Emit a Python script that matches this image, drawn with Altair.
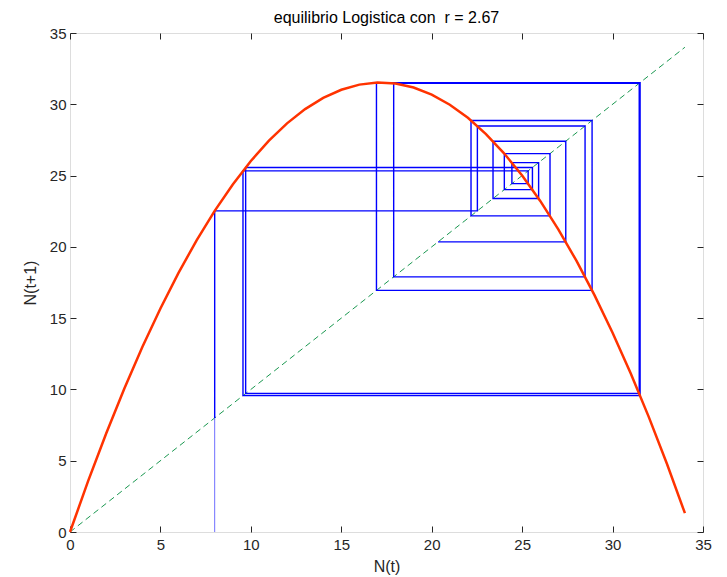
import altair as alt
import pandas as pd

title_text = "equilibrio Logistica con\u00a0 r = 2.67"
x_title = "N(t)"
y_title = "N(t+1)"
tick_values = [0, 5, 10, 15, 20, 25, 30, 35]

# logistic curve N(t+1) read at integer N(t)
curve_n = list(range(0, 35))
curve_next = [0.0, 3.563, 6.913, 10.049, 12.971, 15.68, 18.175, 20.457, 22.525,
              24.379, 26.02, 27.447, 28.661, 29.661, 30.447, 31.02, 31.379,
              31.525, 31.457, 31.175, 30.68, 29.971, 29.049, 27.913, 26.563,
              25.0, 23.223, 21.233, 19.029, 16.611, 13.98, 11.135, 8.077,
              4.805, 1.319]

# iterates of the cobweb
iterates = [8.0, 22.525, 28.479, 17.897, 31.474, 9.712, 25.569, 24.015, 26.541,
            22.173, 28.867, 16.945, 31.522, 9.565, 25.332, 24.434, 25.911,
            23.390, 27.412, 20.351]

diag_x = [0, 34]
diag_y = [0, 34]

start_x = [8.0, 8.0]
start_y = [0.0, 8.0]

# build tables
curve_df = pd.DataFrame({"x": curve_n, "y": curve_next})
diag_df = pd.DataFrame({"x": diag_x, "y": diag_y})
start_df = pd.DataFrame({"x": start_x, "y": start_y, "i": [0, 1]})
cx, cy = [], []
for k in range(len(iterates) - 1):
    a, b = iterates[k], iterates[k + 1]
    if k == 0:
        cx.append(a); cy.append(a)
    cx.append(a); cy.append(b)
    cx.append(b); cy.append(b)
cob_df = pd.DataFrame({"x": cx, "y": cy, "i": list(range(len(cx)))})

FONT = "Liberation Sans"
AX = "#262626"
scale = alt.Scale(domain=[0, 35], nice=False, zero=False)

common = dict(values=tick_values, domain=False, tickSize=6, tickColor=AX,
              tickWidth=1, grid=False, labelFlush=False, labelOverlap=False)

x_main = alt.Axis(orient="bottom", offset=-6, labelFont=FONT, labelFontSize=15,
                  labelColor=AX, labelPadding=5, title=x_title, titleFont=FONT,
                  titleFontSize=16, titleFontWeight="normal", titleColor=AX,
                  titlePadding=6, **common)
y_main = alt.Axis(orient="left", offset=-6, labelFont=FONT, labelFontSize=15,
                  labelColor=AX, labelPadding=4, title=y_title, titleFont=FONT,
                  titleFontSize=16, titleFontWeight="normal", titleColor=AX,
                  titlePadding=11, **common)
x_top = alt.Axis(orient="top", offset=-6, labels=False, title=None, **common)
y_right = alt.Axis(orient="right", offset=-6, labels=False, title=None, **common)

diag = alt.Chart(diag_df).mark_line(color="#1a9850", strokeWidth=1,
                                    strokeDash=[6, 4]).encode(
    x=alt.X("x:Q", scale=scale, axis=x_top),
    y=alt.Y("y:Q", scale=scale, axis=y_right),
)

start = alt.Chart(start_df).mark_line(color="#7070ff", strokeWidth=1).encode(
    x=alt.X("x:Q", scale=scale, axis=None),
    y=alt.Y("y:Q", scale=scale, axis=None),
    order="i:Q",
)

cob = alt.Chart(cob_df).mark_line(color="#0000ff", strokeWidth=1.4).encode(
    x=alt.X("x:Q", scale=scale, axis=None),
    y=alt.Y("y:Q", scale=scale, axis=None),
    order="i:Q",
)

curve = alt.Chart(curve_df).mark_line(color="#ff3300", strokeWidth=2.5).encode(
    x=alt.X("x:Q", scale=scale, axis=x_main),
    y=alt.Y("y:Q", scale=scale, axis=y_main),
)

chart = alt.layer(diag, start, cob, curve).resolve_axis(
    x="independent", y="independent"
).properties(
    width=633,
    height=499,
    autosize=alt.AutoSizeParams(type="none"),
    padding={"left": 62, "top": 25, "right": 16, "bottom": 45},
    title=alt.TitleParams(title_text, font=FONT, fontSize=16,
                          fontWeight="normal", color="#000000", offset=0,
                          anchor="middle"),
).configure_view(stroke=AX, strokeWidth=1).configure(background="white")

chart.save("out.html", embed_options={"renderer": "svg", "actions": False})
